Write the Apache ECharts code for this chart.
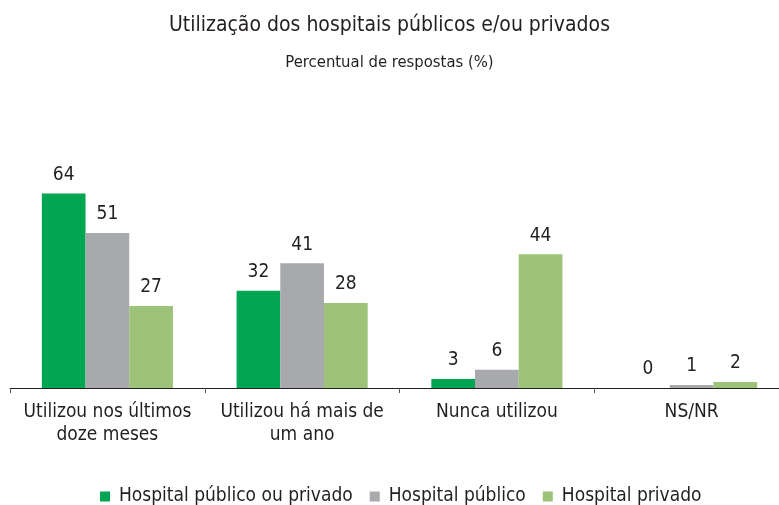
<!DOCTYPE html>
<html>
<head>
<meta charset="utf-8">
<script src="https://cdn.jsdelivr.net/npm/echarts@6/dist/echarts.min.js"></script>
<style>
    html, body { margin: 0; padding: 0; background: #fff; }
    #chart { width: 779px; height: 505px; }
</style>
</head>
<body>
<div id="chart"></div>
<script>
// categorias do eixo x
var categorias = ['Utilizou nos últimos\ndoze meses', 'Utilizou há mais de\num ano', 'Nunca utilizou', 'NS/NR'];

// valores (%) por série
var publicoOuPrivado = [64, 32, 3, 0];
var publico = [51, 41, 6, 1];
var privado = [27, 28, 44, 2];

var nomes = ['Hospital público ou privado', 'Hospital público', 'Hospital privado'];
var cores = ['#00a651', '#a7a9ac', '#9dc379'];

var fonte = '"DejaVu Sans Condensed", "Liberation Sans Narrow", sans-serif';

var myChart = echarts.init(document.getElementById('chart'));

var series = [publicoOuPrivado, publico, privado].map(function(dados, i) {
    return {
        name: nomes[i],
        type: 'bar',
        barGap: 0,
        barCategoryGap: '32.7%',
        itemStyle: { color: cores[i] },
        label: {
            show: true,
            position: 'top',
            distance: 9,
            color: '#231f20',
            fontFamily: fonte,
            fontSize: 19
        },
        data: dados
    };
});

var option = {
    animation: false,
    backgroundColor: '#fff',
    title: [{
        text: 'Utilização dos hospitais públicos e/ou privados',
        left: 'center',
        top: 10,
        textStyle: { color: '#231f20', fontFamily: fonte, fontSize: 21, fontWeight: 'normal' }
    }, {
        text: 'Percentual de respostas (%)',
        left: 'center',
        top: 49,
        textStyle: { color: '#231f20', fontFamily: fonte, fontSize: 16.5, fontWeight: 'normal' }
    }],
    legend: {
        bottom: -6,
        left: 95,
        itemWidth: 10,
        itemHeight: 10,
        itemGap: 17,
        icon: 'rect',
        textStyle: { color: '#231f20', fontFamily: fonte, fontSize: 19, padding: [0, 0, 0, 4] },
        data: nomes
    },
    grid: {
        left: 10,
        right: -10,
        top: 84,
        bottom: 117,
        outerBoundsMode: 'none',
        containLabel: false
    },
    xAxis: {
        type: 'category',
        data: categorias,
        axisLine: { lineStyle: { color: '#231f20', width: 1 } },
        axisTick: { show: true, length: 5, lineStyle: { color: '#555' } },
        axisLabel: {
            interval: 0,
            color: '#231f20',
            fontFamily: fonte,
            fontSize: 19,
            lineHeight: 23,
            margin: 13
        }
    },
    yAxis: {
        type: 'value',
        min: 0,
        max: 100,
        show: false,
        splitLine: { show: false }
    },
    series: series
};
myChart.setOption(option);
</script>
</body>
</html>
